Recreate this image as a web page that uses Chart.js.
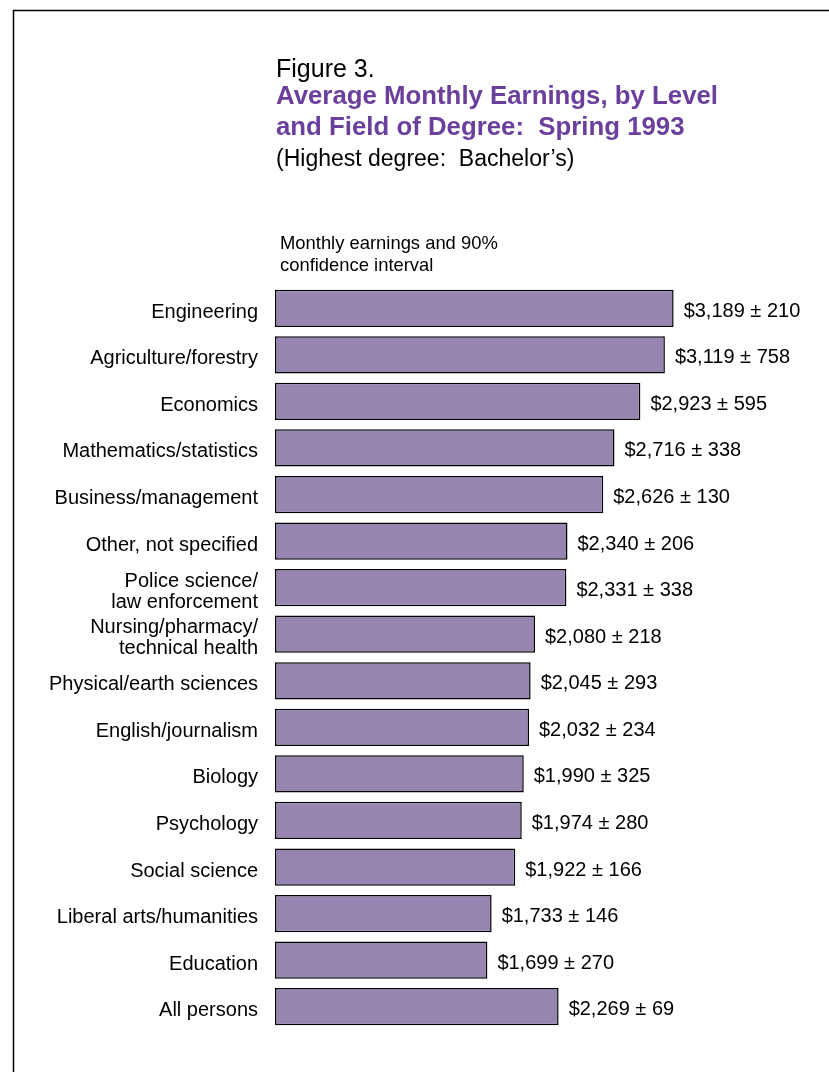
<!DOCTYPE html>
<html>
<head>
<meta charset="utf-8">
<script src="https://cdn.jsdelivr.net/npm/chart.js@4/dist/chart.umd.min.js"></script>
<style>
  html, body { margin: 0; padding: 0; background: #fff; }
  canvas { display: block; }
</style>
</head>
<body>
<canvas id="chart" width="829" height="1072"></canvas>
<script>
// Figure 3 data, top to bottom
const fields = [
  "Engineering",
  "Agriculture/forestry",
  "Economics",
  "Mathematics/statistics",
  "Business/management",
  "Other, not specified",
  ["Police science/", "law enforcement"],
  ["Nursing/pharmacy/", "technical health"],
  "Physical/earth sciences",
  "English/journalism",
  "Biology",
  "Psychology",
  "Social science",
  "Liberal arts/humanities",
  "Education",
  "All persons"
];
const earnings = [3189, 3119, 2923, 2716, 2626, 2340, 2331, 2080, 2045, 2032, 1990, 1974, 1922, 1733, 1699, 2269];
const confidence = [210, 758, 595, 338, 130, 206, 338, 218, 293, 234, 325, 280, 166, 146, 270, 69];

const FONT = '"Liberation Sans", Arial, sans-serif';
const PURPLE = "#6b3f9c";

// titles, frame and value labels
const decor = {
  id: "decor",
  afterDraw(chart) {
    const ctx = chart.ctx;
    ctx.save();

    // frame (top and left edges only)
    ctx.strokeStyle = "#000";
    ctx.lineWidth = 1.5;
    ctx.beginPath();
    ctx.moveTo(13.5, 1072);
    ctx.lineTo(13.5, 10.5);
    ctx.lineTo(829, 10.5);
    ctx.stroke();

    ctx.textAlign = "left";
    ctx.textBaseline = "alphabetic";
    ctx.fillStyle = "#000";
    ctx.font = "25px " + FONT;
    ctx.fillText("Figure 3.", 276, 77);

    ctx.fillStyle = PURPLE;
    ctx.font = "bold 25.8px " + FONT;
    ctx.fillText("Average Monthly Earnings, by Level", 276, 104);
    ctx.fillText("and Field of Degree:  Spring 1993", 276, 135);

    ctx.fillStyle = "#000";
    ctx.font = "23px " + FONT;
    ctx.fillText("(Highest degree:  Bachelor\u2019s)", 276, 166);

    ctx.font = "18.4px " + FONT;
    ctx.fillText("Monthly earnings and 90%", 280, 249);
    ctx.fillText("confidence interval", 280, 271);

    // value labels at bar ends
    const meta = chart.getDatasetMeta(0);
    ctx.font = "20px " + FONT;
    ctx.textBaseline = "middle";
    meta.data.forEach((bar, i) => {
      const txt = "$" + earnings[i].toLocaleString("en-US") + " \u00b1 " + confidence[i];
      ctx.fillText(txt, bar.x + 10, bar.y + 3);
    });

    ctx.restore();
  }
};

new Chart(document.getElementById("chart"), {
  type: "bar",
  data: {
    labels: fields,
    datasets: [{
      data: earnings,
      backgroundColor: "#9585b0",
      borderColor: "#000",
      borderWidth: 1.5,
      borderSkipped: false,
      barPercentage: 0.8,
      categoryPercentage: 1.0
    }]
  },
  options: {
    indexAxis: "y",
    responsive: false,
    animation: false,
    layout: { padding: { left: 0, right: 54, top: 285, bottom: 42 } },
    plugins: {
      legend: { display: false },
      tooltip: { enabled: false }
    },
    scales: {
      x: {
        display: false,
        min: 0,
        max: 4000
      },
      y: {
        border: { display: false },
        grid: { display: false, drawTicks: false },
        ticks: {
          color: "#000",
          padding: 17,
          labelOffset: 4,
          font: { family: FONT, size: 20, lineHeight: 1.05 }
        },
        afterFit(scale) { scale.width = 275; }
      }
    }
  },
  plugins: [decor]
});
</script>
</body>
</html>
